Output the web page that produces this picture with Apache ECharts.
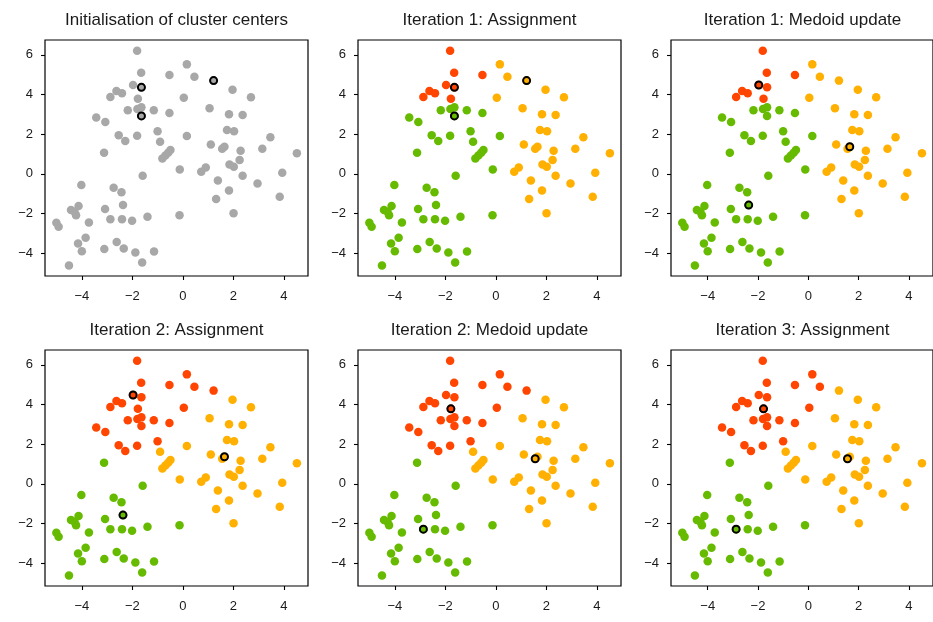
<!DOCTYPE html>
<html>
<head>
<meta charset="utf-8">
<title>K-medoids clustering steps</title>
<script src="https://cdn.jsdelivr.net/npm/echarts@6/dist/echarts.min.js"></script>
<style>
  html, body { margin: 0; padding: 0; background: #ffffff; }
  #chart { width: 933px; height: 622px; }
</style>
</head>
<body>
<div id="chart"></div>
<script>
// Sample coordinates (same points in every panel)
const xVals = [
  -1.81, -1.65, -0.53, -1.97, -1.64, -2.63, -2.41, -2.87, -1.78,
  -1.64, -2.18, -1.80, -1.64, -1.15, -0.53, -3.43, -3.07, -1.00, -0.90,
  -2.54, -2.28, -1.81, 0.16, -3.12, -0.49, -0.58, -0.69, -0.81, -0.12, -1.59,
  -4.02, -2.74, -2.43, -4.13, -4.43, -4.29, -4.23, -3.08, -2.37, -2.87,
  -2.41, -2.01, -1.40, -3.72, -0.13, -5.01, -4.92, -3.85, -4.15, -4.00,
  -3.11, -2.62, -2.34, -1.88, -1.14, -1.61, -4.51,
  0.16, 0.46, 1.22, 1.97, 2.70, 0.04, 1.06, 1.83, 2.37, 1.75, 2.03,
  3.47, 1.11, 1.56, 1.65, 2.29, 3.15, 4.52, 2.25, 1.85, 2.02, 0.73,
  0.91, 2.37, 3.94, 1.39, 2.96, 1.83, 1.32, 3.84, 2.01
];
const yVals = [
  6.21, 5.10, 4.98, 4.48, 4.36, 4.18, 4.06, 3.87, 3.78,
  2.92, 3.20, 3.27, 3.35, 3.20, 3.06, 2.84, 2.61, 2.14, 1.62,
  1.94, 1.65, 1.92, 1.90, 1.06, 1.20, 1.06, 0.92, 0.77, 0.22, -0.10,
  -0.57, -0.71, -0.93, -1.63, -1.83, -1.92, -2.09, -1.78, -1.58, -2.29,
  -2.29, -2.37, -2.17, -2.46, -2.10, -2.47, -2.68, -3.23, -3.52, -3.91,
  -3.80, -3.45, -3.77, -3.97, -3.92, -4.48, -4.63,
  5.52, 4.90, 4.70, 4.24, 3.86, 3.84, 3.30, 3.00, 2.96, 2.21, 2.14,
  1.84, 1.48, 1.26, 1.36, 1.16, 1.26, 1.03, 0.69, 0.47, 0.35, 0.10,
  0.32, -0.10, 0.05, -0.34, -0.49, -0.84, -1.28, -1.16, -1.99
];

// Cluster labels: 0 = cluster A, 1 = cluster B, 2 = cluster C, -1 = unassigned
const assignInit = new Array(xVals.length).fill(-1);
const assignIter1 = [
  0, 0, 0, 0, 0, 0, 0, 0, 0,
  1, 1, 1, 1, 1, 1, 1, 1, 1, 1,
  1, 1, 1, 1, 1, 1, 1, 1, 1, 1, 1,
  1, 1, 1, 1, 1, 1, 1, 1, 1, 1,
  1, 1, 1, 1, 1, 1, 1, 1, 1, 1,
  1, 1, 1, 1, 1, 1, 1,
  2, 2, 2, 2, 2, 2, 2, 2, 2, 2, 2,
  2, 2, 2, 2, 2, 2, 2, 2, 2, 2, 2,
  2, 2, 2, 2, 2, 2, 2, 2, 2
];
const assignIter2 = [
  0, 0, 0, 0, 0, 0, 0, 0, 0,
  0, 0, 0, 0, 0, 0, 0, 0, 0, 2,
  0, 0, 0, 2, 1, 2, 2, 2, 2, 2, 1,
  1, 1, 1, 1, 1, 1, 1, 1, 1, 1,
  1, 1, 1, 1, 1, 1, 1, 1, 1, 1,
  1, 1, 1, 1, 1, 1, 1,
  0, 0, 0, 2, 2, 0, 2, 2, 2, 2, 2,
  2, 2, 2, 2, 2, 2, 2, 2, 2, 2, 2,
  2, 2, 2, 2, 2, 2, 2, 2, 2
];
const assignIter3 = [
  0, 0, 0, 0, 0, 0, 0, 0, 0,
  0, 0, 0, 0, 0, 0, 0, 0, 0, 2,
  0, 0, 0, 2, 1, 2, 2, 2, 2, 2, 1,
  1, 1, 1, 1, 1, 1, 1, 1, 1, 1,
  1, 1, 1, 1, 1, 1, 1, 1, 1, 1,
  1, 1, 1, 1, 1, 1, 1,
  0, 0, 2, 2, 2, 0, 2, 2, 2, 2, 2,
  2, 2, 2, 2, 2, 2, 2, 2, 2, 2, 2,
  2, 2, 2, 2, 2, 2, 2, 2, 2
];

// Medoid point indices (cluster A, B, C)
const medoidsInit = [4, 9, 59];
const medoidsIter1 = [3, 38, 71];
const medoidsIter2 = [8, 39, 70];

const panelTitles = [
  'Initialisation of cluster centers',
  'Iteration 1: Assignment',
  'Iteration 1: Medoid update',
  'Iteration 2: Assignment',
  'Iteration 2: Medoid update',
  'Iteration 3: Assignment'
];
const panelAssign = [assignInit, assignIter1, assignIter1, assignIter2, assignIter2, assignIter3];
const panelMedoids = [medoidsInit, medoidsInit, medoidsIter1, medoidsIter1, medoidsIter2, medoidsIter2];

const xTicks = [-4, -2, 0, 2, 4];
const yTicks = [-4, -2, 0, 2, 4, 6];

const clusterColors = ['#FF4500', '#66BB00', '#FFB000'];
const unassignedColor = '#A8A8A8';

// Layout of the 2 x 3 panel grid
const colLeft = [45, 358, 671];
const rowTop = [40, 350];
const panelW = 263;
const panelH = 236;

const fontFamily = '"Liberation Sans", Arial, Helvetica, sans-serif';
const textColor = '#1a1a1a';
const minusFmt = v => String(v).replace('-', '\u2212');

const grids = [], xAxes = [], yAxes = [], series = [], graphics = [];

panelTitles.forEach((title, p) => {
  const r = Math.floor(p / 3), c = p % 3;
  grids.push({
    left: colLeft[c], top: rowTop[r], width: panelW, height: panelH,
    show: true, borderColor: '#000', borderWidth: 1.2, backgroundColor: 'transparent'
  });
  xAxes.push({
    type: 'value', gridIndex: p, min: -5.46, max: 4.96,
    axisLine: { show: false, onZero: false },
    axisTick: { show: true, inside: false, length: 4, customValues: xTicks,
      lineStyle: { color: '#000', width: 1.1 } },
    axisLabel: { show: true, customValues: xTicks, formatter: minusFmt,
      fontFamily, fontSize: 13, color: textColor, margin: 14 },
    splitLine: { show: false }
  });
  yAxes.push({
    type: 'value', gridIndex: p, min: -5.16, max: 6.75,
    axisLine: { show: false, onZero: false },
    axisTick: { show: true, inside: false, length: 4, customValues: yTicks,
      lineStyle: { color: '#000', width: 1.1 } },
    axisLabel: { show: true, customValues: yTicks, formatter: minusFmt,
      fontFamily, fontSize: 13, color: textColor, margin: 12 },
    splitLine: { show: false }
  });

  const labels = panelAssign[p];
  const groups = [-1, 0, 1, 2];
  groups.forEach(g => {
    const data = [];
    labels.forEach((lab, i) => { if (lab === g) data.push([xVals[i], yVals[i]]); });
    if (!data.length) return;
    series.push({
      type: 'scatter', xAxisIndex: p, yAxisIndex: p,
      symbol: 'circle', symbolSize: 8.5,
      itemStyle: { color: g === -1 ? unassignedColor : clusterColors[g], opacity: 1 },
      data, silent: true, z: 2
    });
  });

  const medData = panelMedoids[p].map(i => ({
    value: [xVals[i], yVals[i]],
    itemStyle: { color: labels[i] === -1 ? unassignedColor : clusterColors[labels[i]] }
  }));
  series.push({
    type: 'scatter', xAxisIndex: p, yAxisIndex: p,
    symbol: 'circle', symbolSize: 7,
    itemStyle: { borderColor: '#000', borderWidth: 2, opacity: 1 },
    data: medData, silent: true, z: 3
  });

  graphics.push({
    type: 'text',
    x: colLeft[c] + panelW / 2,
    y: rowTop[r] - 20,
    style: {
      text: title, align: 'center', verticalAlign: 'middle',
      font: '17px ' + fontFamily, fill: textColor
    }
  });
});

const chart = echarts.init(document.getElementById('chart'), null, { renderer: 'canvas' });
chart.setOption({
  animation: false,
  backgroundColor: '#ffffff',
  grid: grids,
  xAxis: xAxes,
  yAxis: yAxes,
  series,
  graphic: graphics
});
</script>
</body>
</html>
